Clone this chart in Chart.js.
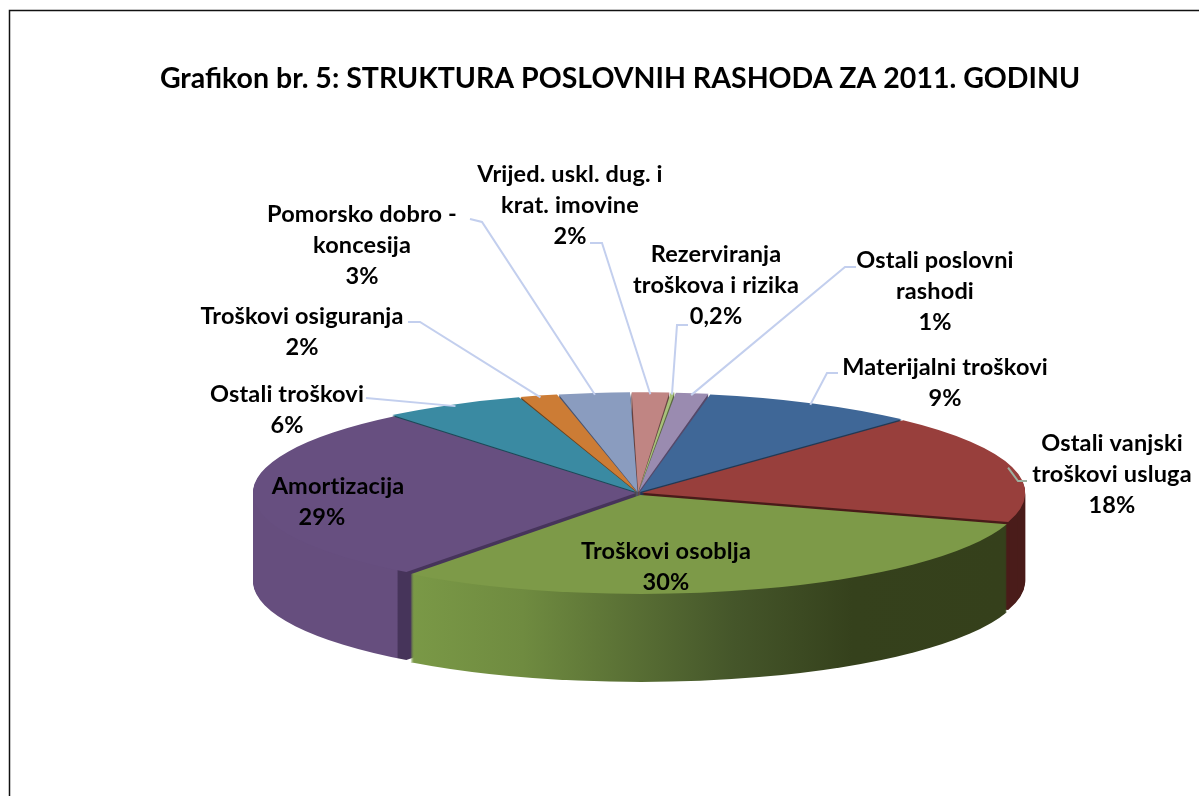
<!DOCTYPE html>
<html>
<head>
<meta charset="utf-8">
<title>Grafikon br. 5</title>
<script src="https://cdn.jsdelivr.net/npm/chart.js@4"></script>
<style>
  html, body { margin: 0; padding: 0; background: #fff; }
  canvas { display: block; }
</style>
</head>
<body>
<canvas id="myChart" width="1199" height="796"></canvas>
<script>
const categories = ['Materijalni troškovi', 'Ostali vanjski troškovi usluga', 'Troškovi osoblja', 'Amortizacija', 'Ostali troškovi',
  'Troškovi osiguranja', 'Pomorsko dobro - koncesija', 'Vrijed. uskl. dug. i krat. imovine', 'Rezerviranja troškova i rizika', 'Ostali poslovni rashodi'];
// shares, the printed labels round them
const shares = [9, 17.8, 30.4, 28.8, 6, 1.6, 3, 1.6, 0.2, 1.4];
const percentLabels = ['9%', '18%', '30%', '29%', '6%', '2%', '3%', '2%', '0,2%', '1%'];
const titleText = 'Grafikon br. 5: STRUKTURA POSLOVNIH RASHODA ZA 2011. GODINU';

const topColors = ['#3f6797', '#983f3c', '#7d9a48', '#674f80', '#3a8aa2', '#cc7c35', '#8a9cbf', '#c08583', '#a8c07a', '#9a8bb0'];
const seamColors = ['#233a55', '#4a1c1a', '#35411c', '#46345a', '#1d4a58', '#6e431c', '#4a5570', '#6a4745', '#5c6a42', '#55496a'];
const shift = [16, 16, 32, 8, 16, 16, 16, 16, 16, 16]; // arc offset, the library draws it at a quarter

// pie is squashed and given depth by the plugin below
const CX = 638, CY = 493, SQUASH = 0.258, DEPTH = 88;

// text lines and where they sit, elbow = the bent point of the leader
const labelBlocks = [
  { lines: ['Materijalni troškovi', '9%'], x: 945, y: 367, elbow: [[827, 373], [838, 373]] },
  { lines: ['Ostali vanjski', 'troškovi usluga', '18%'], x: 1112, y: 443, elbow: [[1018, 481], [1027, 481]], color: '#9db0a0' },
  { lines: ['Troškovi osoblja', '30%'], x: 666, y: 551 },
  { lines: ['Amortizacija', '29%'], x: 338, y: 486, x2: 322 },
  { lines: ['Ostali troškovi', '6%'], x: 287, y: 394, elbow: [[366, 398]] },
  { lines: ['Troškovi osiguranja', '2%'], x: 302, y: 316, elbow: [[420, 322], [408, 322]] },
  { lines: ['Pomorsko dobro -', 'koncesija', '3%'], x: 362, y: 214, elbow: [[482, 222], [470, 219]] },
  { lines: ['Vrijed. uskl. dug. i', 'krat. imovine', '2%'], x: 570, y: 174, elbow: [[602, 243], [590, 243]] },
  { lines: ['Rezerviranja', 'troškova i rizika', '0,2%'], x: 716, y: 254, elbow: [[677, 325], [688, 325]] },
  { lines: ['Ostali poslovni', 'rashodi', '1%'], x: 935, y: 260, elbow: [[845, 267], [856, 267]] }
];

function wallPaint(ctx, i, dx) {
  // x in the gradients is page x, dx moves it to the chart's own x
  const hg = (x0, x1, stops) => {
    const g = ctx.createLinearGradient(x0 - dx, 0, x1 - dx, 0);
    stops.forEach(s => g.addColorStop(s[0], s[1]));
    return g;
  };
  if (i === 2) return hg(400, 1000, [[0, '#7b9a47'], [0.2, '#6f8b40'], [0.55, '#45562a'], [0.75, '#35411c'], [1, '#35401b']]);
  if (i === 3) return hg(250, 410, [[0, '#664e7e'], [0.93, '#664e7e'], [0.94, '#46345a'], [1, '#46345a']]);
  return seamColors[i];
}

const pie3d = {
  id: 'pie3d',
  beforeDraw(chart) {
    const ctx = chart.ctx;
    ctx.save();
    ctx.fillStyle = '#fff';
    ctx.fillRect(0, 0, chart.width, chart.height);
    ctx.strokeStyle = '#111';
    ctx.lineWidth = 1.5;
    ctx.beginPath();
    ctx.moveTo(9.5, chart.height);
    ctx.lineTo(9.5, 10.5);
    ctx.lineTo(chart.width, 10.5);
    ctx.stroke();
    ctx.restore();
  },
  beforeDatasetDraw() {
    return false; // arcs are drawn in afterDatasetsDraw
  },
  afterDatasetsDraw(chart) {
    const ctx = chart.ctx;
    const arcs = chart.getDatasetMeta(0).data;
    const dx = CX - arcs[0].x;
    const place = (arc, down) => {
      ctx.translate(CX, CY + down);
      ctx.scale(1, SQUASH);
      ctx.translate(-arc.x, -arc.y);
    };
    // back slices first so the front ones cover their walls
    const midAngle = a => (a.startAngle + a.endAngle) / 2;
    const order = arcs.map((a, i) => i).sort((p, q) => Math.sin(midAngle(arcs[p])) - Math.sin(midAngle(arcs[q])));
    order.forEach(i => {
      const arc = arcs[i];
      const topOptions = arc.options;
      arc.options = Object.create(topOptions, { backgroundColor: { value: wallPaint(ctx, i, dx) } });
      for (let d = DEPTH; d > 0; d--) {
        ctx.save();
        place(arc, d);
        arc.draw(ctx);
        ctx.restore();
      }
      arc.options = topOptions;
      ctx.save();
      place(arc, 0);
      arc.draw(ctx);
      ctx.restore();
    });

    // leader lines start on the rim of their slice
    labelBlocks.forEach((b, i) => {
      if (!b.elbow) return;
      const a = midAngle(arcs[i]);
      const R = arcs[i].outerRadius;
      ctx.save();
      ctx.strokeStyle = b.color || '#c3cfee';
      ctx.lineWidth = 2;
      ctx.beginPath();
      ctx.moveTo(CX + R * Math.cos(a), CY + R * SQUASH * Math.sin(a));
      b.elbow.forEach(p => ctx.lineTo(p[0], p[1]));
      ctx.stroke();
      ctx.restore();
    });

    ctx.save();
    ctx.fillStyle = '#000';
    ctx.font = 'bold 23.5px Lato';
    ctx.letterSpacing = '0.15px';
    ctx.textAlign = 'center';
    ctx.textBaseline = 'middle';
    labelBlocks.forEach((b, i) => {
      const last = b.lines.length - 1;
      b.lines.forEach((t, n) => {
        const x = n === last && b.x2 ? b.x2 : b.x;
        ctx.fillText(n === last ? percentLabels[i] : t, x, b.y + n * 31);
      });
    });
    ctx.restore();
  }
};

const ctx = document.getElementById('myChart').getContext('2d');
const myChart = new Chart(ctx, {
  type: 'pie',
  data: {
    labels: categories,
    datasets: [{
      data: shares,
      backgroundColor: topColors,
      borderWidth: 0,
      offset: shift,
      radius: 383
    }]
  },
  options: {
    responsive: false,
    animation: false,
    rotation: 10.5,
    layout: { padding: { left: 41, right: 0, top: 0, bottom: 0 } },
    plugins: {
      legend: { display: false },
      tooltip: { enabled: false },
      title: {
        display: true,
        text: titleText,
        color: '#000',
        font: { family: 'Lato', size: 28.5, weight: 'bold' },
        padding: { top: 62, bottom: 10 }
      }
    }
  },
  plugins: [pie3d]
});
</script>
</body>
</html>
